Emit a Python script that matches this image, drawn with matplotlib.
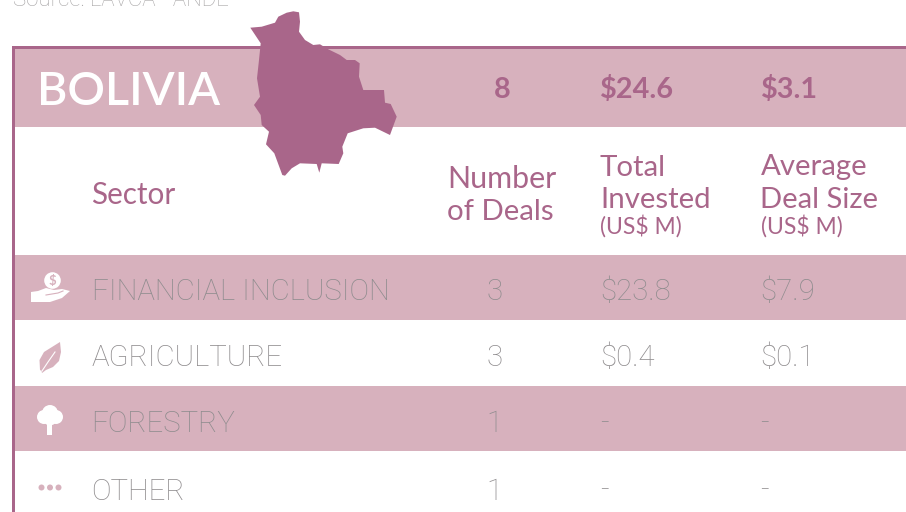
import matplotlib
matplotlib.use("Agg")
import matplotlib.pyplot as plt
from matplotlib.patches import Polygon, Rectangle, Circle

W, H = 906, 512
PINK = "#D7B1BD"
PURPLE = "#A9668A"
GRAY = "#8F8C8E"

country = "BOLIVIA"
source = "Source: LAVCA - ANDE"
totals = ["8", "$24.6", "$3.1"]
sectors = ["FINANCIAL INCLUSION", "AGRICULTURE", "FORESTRY", "OTHER"]
deals = ["3", "3", "1", "1"]
invested = ["$23.8", "$0.4", "-", "-"]
avg_size = ["$7.9", "$0.1", "-", "-"]
map_x = [250.3,261.7,275,278.3,286.7,293.3,299,300,299,305,313.3,320,328.3,340,346.7,355,359.7,359,363.3,384,385,390.7,396.7,390,375,363.3,347.7,342.3,343.3,338.7,321.7,319.3,316.7,300,291.7,285,282.3,274.3,266,269,261.7,260.7,254,260,257,259,260.7]
map_y = [27.7,26.7,22.7,16.7,12.7,11.3,12.3,21.7,31.7,40,45,44.3,49.3,55,60,60,63.3,76.7,90,90,102.7,104,116.7,135,127.7,128.3,133.3,146.7,153.3,164,163.3,172.7,164,163.3,168.3,175.7,175,153.3,144.3,131.7,125,115,105,96.7,78.3,60,43.3]

fig = plt.figure(figsize=(W/100, H/100), dpi=100, facecolor="white")
ax = fig.add_axes([0, 0, 1, 1])
ax.set_xlim(0, W); ax.set_ylim(H, 0); ax.axis("off")
F = "Lato"
L = "Roboto"

def rect(x, y, w, h, c, z=1):
    ax.add_patch(Rectangle((x, y), w, h, fc=c, ec="none", zorder=z))

rect(13, 47, W-13, 80, PINK)
rect(12, 45.5, W-12, 3, PURPLE, 2)
rect(12, 45.5, 3, H, PURPLE, 2)
for y0, y1 in [(255, 320), (386, 451)]:
    rect(15, y0, W-15, y1-y0, PINK)

ax.text(13, 6.5, source, fontsize=16, color="#A8A6A7", family=L, weight="light", va="baseline")
ax.add_patch(Polygon(list(zip(map_x, map_y)), closed=True, fc=PURPLE, ec="none", zorder=3))
ax.text(37, 105, country, fontsize=33.6, color="white", family=F, weight="semibold", va="baseline")

hkw = dict(color=PURPLE, family=F, va="baseline")
xs = [502, 600, 760.5]
ax.text(xs[0], 98, totals[0], fontsize=20.8, weight="bold", ha="center", **hkw)
ax.text(xs[1], 98, totals[1], fontsize=20.8, weight="bold", **hkw)
ax.text(xs[2], 98, totals[2], fontsize=20.8, weight="bold", **hkw)
ax.text(91.5, 204.5, "Sector", fontsize=21.3, **hkw)
ax.text(501.5, 188.5, "Number", fontsize=21.9, ha="center", **hkw)
ax.text(500.5, 220.5, "of Deals", fontsize=21.2, ha="center", **hkw)
ax.text(xs[1], 175.5, "Total", fontsize=21.2, **hkw)
ax.text(xs[1], 207.5, "Invested", fontsize=21.2, **hkw)
ax.text(xs[1]+0.5, 234, "(US$ M)", fontsize=16.5, **hkw)
ax.text(xs[2], 175.5, "Average", fontsize=21.2, **hkw)
ax.text(xs[2], 207.5, "Deal Size", fontsize=21, **hkw)
ax.text(xs[2]+0.5, 234, "(US$ M)", fontsize=16.5, **hkw)

ys = [300, 366, 432.5, 499.5]
rkw = dict(fontsize=21.2, color=GRAY, family=L, weight="light", va="baseline")
for i, y in enumerate(ys):
    ax.text(91.5, y, sectors[i], **rkw)
    ax.text(494.5, y, deals[i], ha="center", **rkw)
    ax.text(600.5, y if invested[i] != "-" else y-1, invested[i], **rkw)
    ax.text(760.5, y if avg_size[i] != "-" else y-1, avg_size[i], **rkw)

# sector icons
z = 4
ax.add_patch(Circle((52.5, 280.5), 8.3, fc="white", ec="none", zorder=z))
ax.text(52.5, 280.5, "$", fontsize=9.5, color=PINK, weight="bold", ha="center", va="center", family=F, zorder=z+1)
ax.add_patch(Polygon([(31,292),(38,291),(46,288),(54,290),(62,289),(70,291),(62,298),(50,302),(31,302)],
                     closed=True, fc="white", ec="none", zorder=z))
ax.plot([46, 58, 63], [295, 293, 291], color=PINK, lw=0.8, zorder=z+1)

ax.add_patch(Polygon([(40,370),(39.5,360),(44,352),(52,347),(60,342),(61,352),(59,361),(53,367),(46,370),(42,373),(41.5,371)],
                     closed=True, fc=PINK, ec="none", zorder=z))
ax.plot([42, 48, 55], [371, 362, 352], color="white", lw=0.8, zorder=z+1)

for (cx, cy, r) in [(50,413,8),(44,417,7),(56,417,7),(50,419,6.5)]:
    ax.add_patch(Circle((cx, cy), r, fc="white", ec="none", zorder=z))
ax.add_patch(Polygon([(47,423),(47,435),(52,435),(52,423)], closed=True, fc="white", ec="none", zorder=z))

for cx in [41.5, 50, 58.5]:
    ax.add_patch(Circle((cx, 487.5), 3, fc=PINK, ec="none", zorder=z))

fig.savefig("out.png", dpi=100)
